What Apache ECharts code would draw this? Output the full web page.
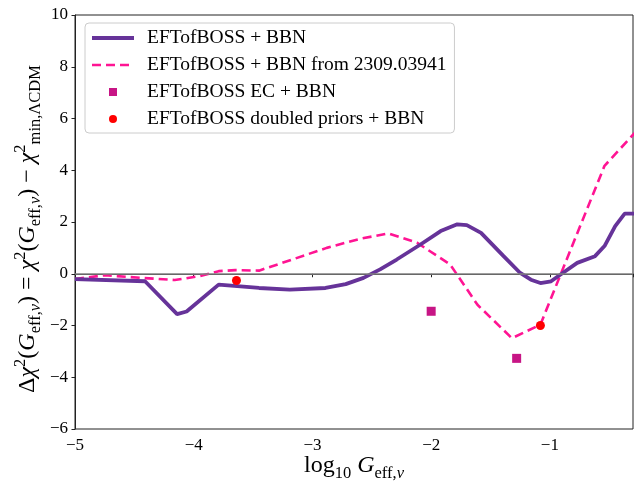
<!DOCTYPE html>
<html>
<head>
<meta charset="utf-8">
<script src="https://cdn.jsdelivr.net/npm/echarts@6/dist/echarts.min.js"></script>
<style>
  html, body { margin: 0; padding: 0; background: #fff; }
  #chart { width: 634px; height: 484px; }
</style>
</head>
<body>
<div id="chart"></div>
<script>
// EFTofBOSS + BBN (solid purple)
const bossX = [-5, -4.41, -4.14, -4.06, -3.79, -3.45, -3.19, -2.89, -2.72, -2.57, -2.43, -2.29, -2.09, -1.92, -1.78, -1.70, -1.58, -1.39, -1.25, -1.16, -1.08, -0.99, -0.91, -0.77, -0.62, -0.54, -0.45, -0.37, -0.28]
const bossY = [-0.21, -0.29, -1.56, -1.46, -0.42, -0.55, -0.61, -0.55, -0.40, -0.16, 0.17, 0.55, 1.13, 1.65, 1.91, 1.88, 1.58, 0.68, 0.03, -0.23, -0.36, -0.29, -0.03, 0.42, 0.68, 1.07, 1.84, 2.32, 2.32]

// EFTofBOSS + BBN from 2309.03941 (dashed pink)
const refX = [-5, -4.75, -4.44, -4.16, -3.96, -3.79, -3.65, -3.45, -3.17, -2.88, -2.60, -2.36, -2.12, -1.84, -1.61, -1.32, -1.08, -0.91, -0.54, -0.28]
const refY = [-0.20, -0.06, -0.16, -0.24, -0.10, 0.10, 0.14, 0.12, 0.55, 1.00, 1.35, 1.56, 1.20, 0.36, -1.20, -2.49, -1.97, -0.03, 4.17, 5.47]

// EFTofBOSS EC + BBN (squares)
const ecX = [-2.0, -1.28]
const ecY = [-1.45, -3.27]

// EFTofBOSS doubled priors + BBN (circles)
const dblX = [-3.64, -1.08]
const dblY = [-0.26, -2.0]

const legendNames = [
  'EFTofBOSS + BBN',
  'EFTofBOSS + BBN from 2309.03941',
  'EFTofBOSS EC + BBN',
  'EFTofBOSS doubled priors + BBN',
]

const zip = (xs, ys) => xs.map((x, i) => [x, ys[i]])
const minus = (v) => (v < 0 ? '\u2212' + Math.abs(v) : String(v))

const serif = 'Liberation Serif'
const mathRich = {
  r: { fontFamily: serif, fontSize: 24, lineHeight: 32, color: '#000' },
  i: { fontFamily: serif, fontSize: 24, lineHeight: 32, fontStyle: 'italic', color: '#000' },
  sub: { fontFamily: serif, fontSize: 16.5, lineHeight: 17, verticalAlign: 'bottom', color: '#000' },
  subi: { fontFamily: serif, fontSize: 16.5, lineHeight: 17, fontStyle: 'italic', verticalAlign: 'bottom', color: '#000' },
  sup: { fontFamily: serif, fontSize: 16.5, lineHeight: 17, verticalAlign: 'top', color: '#000' },
}

const chart = echarts.init(document.getElementById('chart'), null, { renderer: 'canvas' })

chart.setOption({
  animation: false,
  backgroundColor: '#fff',
  grid: {
    left: 75,
    right: 1,
    top: 15,
    bottom: 55,
    containLabel: false,
    outerBoundsMode: 'none',
    show: true,
    borderColor: '#222',
    borderWidth: 1,
    backgroundColor: 'transparent',
  },
  legend: {
    orient: 'vertical',
    left: 85,
    top: 23,
    padding: [5, 8, 4, 5],
    itemWidth: 42,
    itemHeight: 8,
    itemGap: 7,
    backgroundColor: 'rgba(255,255,255,0.8)',
    borderColor: '#cccccc',
    borderWidth: 1,
    borderRadius: 4,
    selectedMode: false,
    textStyle: {
      fontFamily: serif,
      fontSize: 19.5,
      color: '#000',
      padding: [0, 0, 0, 8],
    },
    data: [
      { name: legendNames[0], itemStyle: { opacity: 0 }, lineStyle: { width: 4 } },
      { name: legendNames[1], itemStyle: { opacity: 0 }, lineStyle: { width: 2.7, type: [9, 5] } },
      { name: legendNames[2], icon: 'path://M0,0H10V10H0Z' },
      { name: legendNames[3], icon: 'circle' },
    ],
  },
  xAxis: {
    type: 'value',
    min: -5,
    max: -0.3,
    interval: 1,
    name: '{r|log}{sub|10}{r| }{i|G}{sub|eff,}{subi|ν}',
    nameLocation: 'middle',
    nameGap: 21,
    nameMoveOverlap: false,
    nameTextStyle: { rich: mathRich },
    axisLine: { show: true, lineStyle: { color: '#222', width: 1 } },
    axisTick: { show: true, length: 3.5, lineStyle: { color: '#222' } },
    axisLabel: {
      fontFamily: serif,
      fontSize: 17,
      color: '#000',
      margin: 8,
      formatter: (v) => (Number.isInteger(v) ? minus(v) : ''),
    },
    splitLine: { show: false },
  },
  yAxis: {
    type: 'value',
    min: -6,
    max: 10,
    interval: 2,
    name: '{r|Δ}{i|χ}{sup|2}{r|(}{i|G}{sub|eff,}{subi|ν}{r|) = }{i|χ}{sup|2}{r|(}{i|G}{sub|eff,}{subi|ν}{r|) − }{i|χ}{sup|2}{sub|min,ΛCDM}',
    nameLocation: 'middle',
    nameRotate: 90,
    nameGap: 31,
    nameMoveOverlap: false,
    nameTextStyle: { rich: mathRich, padding: [0, 14, 0, 0] },
    axisLine: { show: true, lineStyle: { color: '#222', width: 1 } },
    axisTick: { show: true, length: 3.5, lineStyle: { color: '#222' } },
    axisLabel: {
      fontFamily: serif,
      fontSize: 17,
      color: '#000',
      margin: 7,
      formatter: minus,
    },
    splitLine: { show: false },
  },
  series: [
    {
      name: 'zero',
      type: 'line',
      data: [],
      z: 1,
      markLine: {
        silent: true,
        symbol: 'none',
        label: { show: false },
        lineStyle: { color: '#808080', width: 1.5, type: 'solid' },
        data: [{ yAxis: 0 }],
      },
    },
    {
      name: legendNames[0],
      type: 'line',
      data: zip(bossX, bossY),
      symbol: 'none',
      z: 3,
      lineStyle: { color: '#663399', width: 3.8 },
      itemStyle: { color: '#663399' },
    },
    {
      name: legendNames[1],
      type: 'line',
      data: zip(refX, refY),
      symbol: 'none',
      z: 2,
      lineStyle: { color: '#ff1493', width: 2.6, type: [9, 5] },
      itemStyle: { color: '#ff1493' },
    },
    {
      name: legendNames[2],
      type: 'scatter',
      data: zip(ecX, ecY),
      symbol: 'rect',
      symbolSize: 9,
      z: 4,
      itemStyle: { color: '#c71585', opacity: 1 },
    },
    {
      name: legendNames[3],
      type: 'scatter',
      data: zip(dblX, dblY),
      symbol: 'circle',
      symbolSize: 9,
      z: 4,
      itemStyle: { color: '#ff0000', opacity: 1 },
    },
  ],
})
</script>
</body>
</html>
